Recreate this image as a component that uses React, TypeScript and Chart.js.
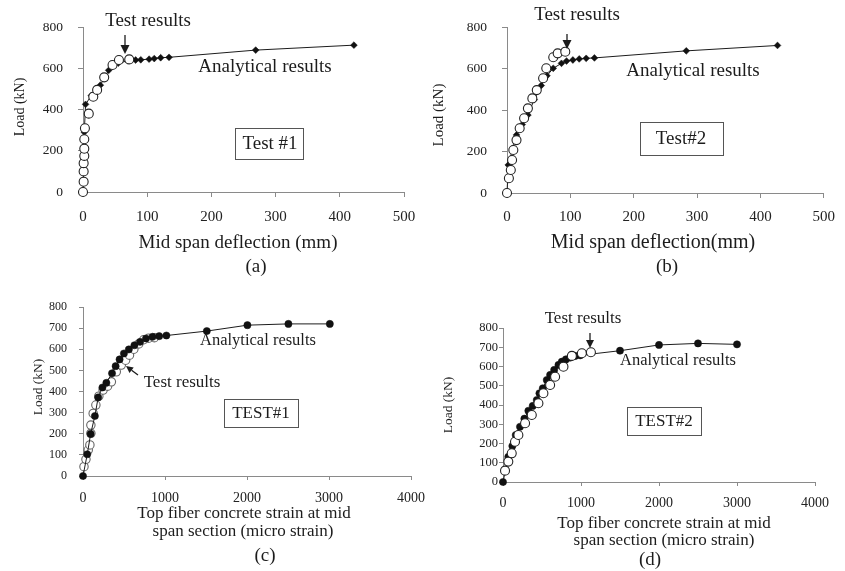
import { useEffect, useRef } from 'react';
import { Chart, registerables } from 'chart.js';

Chart.register(...registerables);

const WIDTH = 845;
const HEIGHT = 571;
const SERIF = '"Liberation Serif", "Times New Roman", serif';
const INK = '#1c1c1c';
const AXIS = '#8a8a8a';

// (a) Test #1: load vs mid span deflection
const deflTest1X = [0, 1, 1, 1, 2, 2, 2, 3, 9, 16, 22, 33, 46, 56, 72];
const deflTest1Y = [0, 50, 100, 140, 175, 210, 256, 309, 380, 462, 495, 556, 616, 640, 643];
const deflModel1X = [0, 2, 4, 13, 27, 40, 55, 70, 82, 90, 103, 111, 121, 134, 269, 422];
const deflModel1Y = [0, 290, 425, 468, 518, 590, 625, 636, 640, 641, 644, 647, 651, 653, 688, 712];

// (b) Test #2: load vs mid span deflection
const deflTest2X = [0, 3, 6, 8, 10, 15, 20, 27, 33, 40, 47, 57, 62, 73, 80, 92];
const deflTest2Y = [0, 71, 111, 159, 207, 255, 312, 360, 408, 456, 496, 553, 601, 654, 673, 681];
const deflModel2X = [0, 2, 9, 15, 24, 33, 43, 54, 63, 73, 86, 94, 104, 114, 125, 138, 283, 427];
const deflModel2Y = [0, 135, 215, 280, 330, 376, 450, 518, 565, 601, 625, 636, 641, 646, 649, 651, 685, 711];

// (c) TEST#1: load vs top fibre concrete strain
const strainTest1X = [12, 36, 64, 84, 96, 96, 124, 157, 193, 245, 300, 346, 406, 467, 520, 567, 620, 680, 740, 800, 870];
const strainTest1Y = [44, 79, 123, 147, 202, 241, 296, 336, 378, 407, 425, 446, 493, 525, 548, 572, 600, 625, 645, 652, 655];
const strainModel1X = [0, 52, 93, 145, 185, 237, 285, 354, 398, 446, 499, 559, 627, 696, 768, 848, 929, 1017, 1510, 2005, 2505, 3010];
const strainModel1Y = [0, 103, 199, 284, 372, 419, 441, 486, 520, 552, 580, 599, 619, 635, 651, 659, 662, 665, 686, 714, 720, 720];

// (d) TEST#2: load vs top fibre concrete strain
const strainTest2X = [26, 68, 112, 154, 197, 283, 369, 454, 518, 604, 668, 775, 883, 1011, 1127];
const strainTest2Y = [59, 106, 149, 209, 244, 305, 348, 409, 461, 504, 547, 599, 655, 669, 674];
const strainModel2X = [0, 68, 120, 163, 218, 274, 325, 381, 433, 467, 510, 561, 604, 656, 711, 754, 806, 861, 925, 990, 1500, 2000, 2500, 3000];
const strainModel2Y = [0, 131, 187, 244, 287, 329, 370, 395, 426, 461, 487, 530, 556, 582, 608, 625, 637, 646, 655, 658, 682, 712, 720, 715];

type Area = { left: number; top: number; right: number; bottom: number };
type Label = { text: string; x: number; y: number; size: number; rotate?: boolean };
type Arrow = { x1: number; y1: number; x2: number; y2: number; head: number; half: number };
type Frame = { x: number; y: number; w: number; h: number };

interface Panel {
  area: Area;
  xMax: number;
  xStep: number;
  yMax: number;
  yStep: number;
  xTickFont: number;
  yTickFont: number;
  xTickPad: number;
  yTickPad: number;
  tickLen: number;
  model: { x: number[]; y: number[]; radius: number; style: 'circle' | 'rectRot' };
  test: { x: number[]; y: number[]; radius: number; border: string };
  testOnTop: boolean;
  labels: Label[];
  arrows: Arrow[];
  frames: Frame[];
}

const panels: Panel[] = [
  {
    area: { left: 83, top: 27, right: 404, bottom: 192 },
    xMax: 500, xStep: 100, yMax: 800, yStep: 200,
    xTickFont: 15, yTickFont: 13.5, xTickPad: 11, yTickPad: 15, tickLen: 5,
    model: { x: deflModel1X, y: deflModel1Y, radius: 3.4, style: 'rectRot' },
    test: { x: deflTest1X, y: deflTest1Y, radius: 4.5, border: '#222' },
    testOnTop: true,
    labels: [
      { text: 'Load (kN)', x: 20, y: 107, size: 14, rotate: true },
      { text: 'Mid span deflection (mm)', x: 238, y: 243, size: 19 },
      { text: '(a)', x: 256, y: 267, size: 19 },
      { text: 'Test results', x: 148, y: 21, size: 19 },
      { text: 'Analytical results', x: 265, y: 67, size: 19 },
      { text: 'Test #1', x: 270, y: 144, size: 19 },
    ],
    arrows: [{ x1: 125, y1: 35, x2: 125, y2: 54, head: 9, half: 4.5 }],
    frames: [{ x: 235, y: 128, w: 68, h: 31 }],
  },
  {
    area: { left: 507, top: 27, right: 826, bottom: 193 },
    xMax: 500, xStep: 100, yMax: 800, yStep: 200,
    xTickFont: 15, yTickFont: 13.5, xTickPad: 10, yTickPad: 15, tickLen: 5,
    model: { x: deflModel2X, y: deflModel2Y, radius: 3.4, style: 'rectRot' },
    test: { x: deflTest2X, y: deflTest2Y, radius: 4.5, border: '#222' },
    testOnTop: true,
    labels: [
      { text: 'Load (kN)', x: 439, y: 115, size: 15, rotate: true },
      { text: 'Mid span deflection(mm)', x: 653, y: 243, size: 20 },
      { text: '(b)', x: 667, y: 267, size: 19 },
      { text: 'Test results', x: 577, y: 15, size: 19 },
      { text: 'Analytical results', x: 693, y: 71, size: 19 },
      { text: 'Test#2', x: 681, y: 139, size: 19 },
    ],
    arrows: [{ x1: 567, y1: 34, x2: 567, y2: 49, head: 9, half: 4.5 }],
    frames: [{ x: 640, y: 122, w: 83, h: 33 }],
  },
  {
    area: { left: 83, top: 307, right: 411, bottom: 476 },
    xMax: 4000, xStep: 1000, yMax: 800, yStep: 100,
    xTickFont: 14, yTickFont: 12, xTickPad: 10, yTickPad: 12, tickLen: 4,
    model: { x: strainModel1X, y: strainModel1Y, radius: 3.6, style: 'circle' },
    test: { x: strainTest1X, y: strainTest1Y, radius: 4.2, border: '#666' },
    testOnTop: false,
    labels: [
      { text: 'Load (kN)', x: 38, y: 387, size: 13.5, rotate: true },
      { text: 'Top fiber concrete strain at mid', x: 244, y: 514, size: 17 },
      { text: 'span section (micro strain)', x: 243, y: 532, size: 17 },
      { text: '(c)', x: 265, y: 556, size: 19 },
      { text: 'Analytical results', x: 258, y: 341, size: 16.5 },
      { text: 'Test results', x: 182, y: 383, size: 17 },
      { text: 'TEST#1', x: 261, y: 414, size: 17 },
    ],
    arrows: [{ x1: 138, y1: 375, x2: 126, y2: 366, head: 7, half: 3.5 }],
    frames: [{ x: 224, y: 399, w: 74, h: 28 }],
  },
  {
    area: { left: 503, top: 328, right: 815, bottom: 482 },
    xMax: 4000, xStep: 1000, yMax: 800, yStep: 100,
    xTickFont: 14, yTickFont: 12.5, xTickPad: 9, yTickPad: 1, tickLen: 4,
    model: { x: strainModel2X, y: strainModel2Y, radius: 3.6, style: 'circle' },
    test: { x: strainTest2X, y: strainTest2Y, radius: 4.5, border: '#222' },
    testOnTop: true,
    labels: [
      { text: 'Load (kN)', x: 448, y: 405, size: 13.5, rotate: true },
      { text: 'Top fiber concrete strain at mid', x: 664, y: 524, size: 17 },
      { text: 'span section (micro strain)', x: 664, y: 541, size: 17 },
      { text: '(d)', x: 650, y: 560, size: 19 },
      { text: 'Test results', x: 583, y: 319, size: 17 },
      { text: 'Analytical results', x: 678, y: 361, size: 16.5 },
      { text: 'TEST#2', x: 664, y: 422, size: 17 },
    ],
    arrows: [{ x1: 590, y1: 333, x2: 590, y2: 348, head: 8, half: 4 }],
    frames: [{ x: 627, y: 407, w: 74, h: 28 }],
  },
];

// Axis titles, callouts, arrows and framed test names drawn over each panel.
function notesPlugin(panel: Panel) {
  return {
    id: 'panelNotes',
    afterDraw(chart: Chart) {
      const ctx = chart.ctx;
      ctx.save();
      ctx.fillStyle = INK;
      ctx.textAlign = 'center';
      ctx.textBaseline = 'middle';
      for (const l of panel.labels) {
        ctx.font = `${l.size}px ${SERIF}`;
        if (l.rotate) {
          ctx.save();
          ctx.translate(l.x, l.y);
          ctx.rotate(-Math.PI / 2);
          ctx.fillText(l.text, 0, 0);
          ctx.restore();
        } else {
          ctx.fillText(l.text, l.x, l.y);
        }
      }
      ctx.strokeStyle = '#555';
      ctx.lineWidth = 1;
      for (const f of panel.frames) {
        ctx.strokeRect(f.x + 0.5, f.y + 0.5, f.w, f.h);
      }
      ctx.strokeStyle = INK;
      for (const a of panel.arrows) {
        const dx = a.x2 - a.x1;
        const dy = a.y2 - a.y1;
        const len = Math.hypot(dx, dy);
        const ux = dx / len;
        const uy = dy / len;
        const bx = a.x2 - ux * a.head;
        const by = a.y2 - uy * a.head;
        ctx.lineWidth = 1.3;
        ctx.beginPath();
        ctx.moveTo(a.x1, a.y1);
        ctx.lineTo(bx, by);
        ctx.stroke();
        ctx.beginPath();
        ctx.moveTo(a.x2, a.y2);
        ctx.lineTo(bx - uy * a.half, by + ux * a.half);
        ctx.lineTo(bx + uy * a.half, by - ux * a.half);
        ctx.closePath();
        ctx.fill();
      }
      ctx.restore();
    },
  };
}

function PanelChart({ panel }: { panel: Panel }) {
  const ref = useRef<HTMLCanvasElement>(null);

  useEffect(() => {
    const canvas = ref.current;
    if (!canvas) return;
    const { area } = panel;
    const yW = 40;
    const xH = 40;
    const pts = (xs: number[], ys: number[]) => xs.map((x, i) => ({ x, y: ys[i] }));

    const axis = (font: number, pad: number, step: number, max: number) => ({
      type: 'linear' as const,
      min: 0,
      max,
      ticks: {
        stepSize: step,
        autoSkip: false,
        maxRotation: 0,
        padding: pad,
        color: '#222',
        font: { family: SERIF, size: font },
        callback: (v: number | string) => String(v),
      },
      grid: {
        display: true,
        drawOnChartArea: false,
        drawTicks: true,
        tickLength: panel.tickLen,
        color: AXIS,
        lineWidth: 1,
      },
      border: { display: true, color: AXIS, width: 1 },
    });

    const chart = new Chart(canvas, {
      type: 'scatter',
      data: {
        datasets: [
          {
            label: 'Analytical results',
            data: pts(panel.model.x, panel.model.y),
            showLine: true,
            tension: 0,
            borderColor: INK,
            borderWidth: 1,
            backgroundColor: '#111',
            pointStyle: panel.model.style,
            pointRadius: panel.model.radius,
            pointBorderWidth: 0.5,
            pointBorderColor: '#111',
            pointBackgroundColor: '#111',
            clip: false,
            order: panel.testOnTop ? 1 : 0,
          },
          {
            label: 'Test results',
            data: pts(panel.test.x, panel.test.y),
            showLine: false,
            pointStyle: 'circle',
            pointRadius: panel.test.radius,
            pointBorderWidth: 1.1,
            pointBorderColor: panel.test.border,
            pointBackgroundColor: '#fff',
            clip: false,
            order: panel.testOnTop ? 0 : 1,
          },
        ],
      },
      options: {
        responsive: false,
        animation: false,
        events: [],
        layout: {
          padding: {
            left: area.left - yW,
            top: area.top,
            right: WIDTH - area.right,
            bottom: HEIGHT - area.bottom - xH,
          },
        },
        plugins: {
          legend: { display: false },
          tooltip: { enabled: false },
          title: { display: false },
        },
        scales: {
          x: {
            ...axis(panel.xTickFont, panel.xTickPad, panel.xStep, panel.xMax),
            position: 'bottom',
            afterFit: (s: any) => {
              s.height = xH;
            },
          },
          y: {
            ...axis(panel.yTickFont, panel.yTickPad, panel.yStep, panel.yMax),
            position: 'left',
            afterFit: (s: any) => {
              s.width = yW;
            },
          },
        },
      },
      plugins: [notesPlugin(panel)],
    } as any);

    return () => chart.destroy();
  }, [panel]);

  return (
    <canvas
      ref={ref}
      width={WIDTH}
      height={HEIGHT}
      style={{ position: 'absolute', left: 0, top: 0 }}
    />
  );
}

export default function App() {
  return (
    <div
      style={{
        position: 'absolute',
        left: 0,
        top: 0,
        width: WIDTH,
        height: HEIGHT,
        background: '#fff',
        overflow: 'hidden',
      }}
    >
      {panels.map((p, i) => (
        <PanelChart key={i} panel={p} />
      ))}
    </div>
  );
}
